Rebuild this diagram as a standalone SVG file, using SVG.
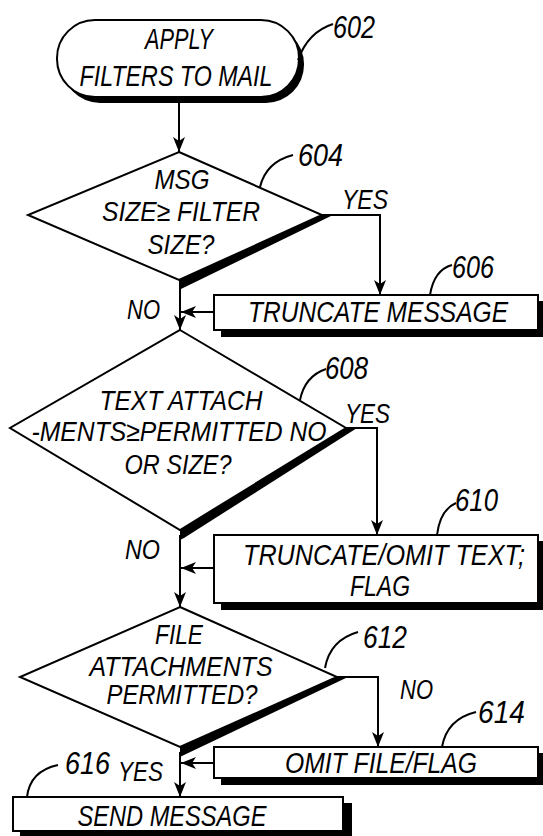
<svg xmlns="http://www.w3.org/2000/svg" width="543" height="836" viewBox="0 0 543 836">
<defs>
<style>
text{font-family:"Liberation Sans",Arial,sans-serif;font-style:italic;fill:#000;text-anchor:middle}
.t{font-size:29px}
.d{font-size:28px}
.d2{font-size:27px}
.n{font-size:31px;text-anchor:start}
.l{font-size:27px;text-anchor:start}
.ln{fill:none;stroke:#000;stroke-width:2}
.bx{fill:#fff;stroke:#000;stroke-width:2}
.sh{fill:#000}
</style>
<marker id="ah" markerUnits="userSpaceOnUse" markerWidth="16" markerHeight="12" refX="15" refY="6" orient="auto">
<path d="M0,0 L15,6 L0,12 L4,6 z" fill="#000"/>
</marker>
</defs>
<rect width="543" height="836" fill="#fff"/>

<g id="connectors">
<path class="ln" d="M179,103 L179,152" marker-end="url(#ah)"/>
<path class="ln" d="M322,215 L380,215 L380,295" marker-end="url(#ah)"/>
<path class="ln" d="M180,285 L180,330" marker-end="url(#ah)"/>
<path class="ln" d="M214,312 L181,312" marker-end="url(#ah)"/>
<path class="ln" d="M346,428 L377,428 L377,535" marker-end="url(#ah)"/>
<path class="ln" d="M180,535 L180,607" marker-end="url(#ah)"/>
<path class="ln" d="M214,568 L181,568" marker-end="url(#ah)"/>
<path class="ln" d="M337,677 L378,677 L378,747" marker-end="url(#ah)"/>
<path class="ln" d="M180,752 L180,797" marker-end="url(#ah)"/>
<path class="ln" d="M214,763 L181,763" marker-end="url(#ah)"/>
</g>

<g id="n602">
<rect class="sh" x="62" y="26" width="242" height="77" rx="38"/>
<rect class="bx" x="57" y="20" width="242" height="77" rx="38"/>
<text class="t" x="179" y="49" textLength="68" lengthAdjust="spacingAndGlyphs">APPLY</text>
<text class="t" x="176" y="86" textLength="193" lengthAdjust="spacingAndGlyphs">FILTERS TO MAIL</text>
<path class="ln" d="M298,60 Q308,32 333,24"/>
<text class="n" x="333" y="38" textLength="42" lengthAdjust="spacingAndGlyphs">602</text>
</g>

<g id="n604">
<polygon class="sh" points="322,215 333,215 183,288 179,290 179,280"/>
<polygon class="bx" points="179,152 322,215 179,280 28,215"/>
<text class="d" x="182" y="189" textLength="55" lengthAdjust="spacingAndGlyphs">MSG</text>
<text class="d" x="181" y="221" textLength="158" lengthAdjust="spacingAndGlyphs">SIZE≥ FILTER</text>
<text class="d" x="181" y="254" textLength="67" lengthAdjust="spacingAndGlyphs">SIZE?</text>
<path class="ln" d="M260,187 Q266,162 293,155"/>
<text class="n" x="298" y="166" textLength="45" lengthAdjust="spacingAndGlyphs">604</text>
<text class="l" x="342" y="209" textLength="46" lengthAdjust="spacingAndGlyphs">YES</text>
<text class="l" x="127" y="319" textLength="33" lengthAdjust="spacingAndGlyphs">NO</text>
</g>

<g id="n606">
<rect class="sh" x="221" y="301" width="330" height="36"/>
<rect class="bx" x="214" y="295" width="324" height="35"/>
<text class="t" x="378" y="322" textLength="260" lengthAdjust="spacingAndGlyphs">TRUNCATE MESSAGE</text>
<path class="ln" d="M430,295 Q434,270 452,265"/>
<text class="n" x="452" y="278" textLength="42" lengthAdjust="spacingAndGlyphs">606</text>
</g>

<g id="n608">
<polygon class="sh" points="346,428 357,428 184,538 180,540 180,530"/>
<polygon class="bx" points="180,330 346,428 180,530 10,428"/>
<text class="d" x="181" y="410" textLength="163" lengthAdjust="spacingAndGlyphs">TEXT ATTACH</text>
<text class="d" x="179" y="441" textLength="295" lengthAdjust="spacingAndGlyphs">-MENTS≥PERMITTED NO</text>
<text class="d" x="178" y="474" textLength="107" lengthAdjust="spacingAndGlyphs">OR SIZE?</text>
<path class="ln" d="M300,400 Q305,376 326,369"/>
<text class="n" x="325" y="379" textLength="43" lengthAdjust="spacingAndGlyphs">608</text>
<text class="l" x="345" y="423" textLength="45" lengthAdjust="spacingAndGlyphs">YES</text>
<text class="l" x="125" y="559" textLength="35" lengthAdjust="spacingAndGlyphs">NO</text>
</g>

<g id="n610">
<rect class="sh" x="221" y="541" width="330" height="69"/>
<rect class="bx" x="214" y="535" width="324" height="68"/>
<text class="t" x="384" y="565" textLength="282" lengthAdjust="spacingAndGlyphs">TRUNCATE/OMIT TEXT;</text>
<text class="t" x="380" y="596" textLength="60" lengthAdjust="spacingAndGlyphs">FLAG</text>
<path class="ln" d="M437,535 Q440,510 456,503"/>
<text class="n" x="455" y="511" textLength="43" lengthAdjust="spacingAndGlyphs">610</text>
</g>

<g id="n612">
<polygon class="sh" points="337,677 348,677 184,755 180,757 180,747"/>
<polygon class="bx" points="180,607 337,677 180,747 20,677"/>
<text class="d2" x="179" y="644" textLength="48" lengthAdjust="spacingAndGlyphs">FILE</text>
<text class="d2" x="181" y="676" textLength="183" lengthAdjust="spacingAndGlyphs">ATTACHMENTS</text>
<text class="d2" x="182" y="704" textLength="151" lengthAdjust="spacingAndGlyphs">PERMITTED?</text>
<path class="ln" d="M325,668 Q330,640 358,632"/>
<text class="n" x="363" y="648" textLength="44" lengthAdjust="spacingAndGlyphs">612</text>
<text class="l" x="400" y="699" textLength="33" lengthAdjust="spacingAndGlyphs">NO</text>
<text class="l" x="118" y="781" textLength="45" lengthAdjust="spacingAndGlyphs">YES</text>
</g>

<g id="n614">
<rect class="sh" x="221" y="753" width="330" height="32"/>
<rect class="bx" x="214" y="747" width="324" height="31"/>
<text class="t" x="381" y="773" textLength="192" lengthAdjust="spacingAndGlyphs">OMIT FILE/FLAG</text>
<path class="ln" d="M442,747 Q447,719 476,712"/>
<text class="n" x="478" y="723" textLength="47" lengthAdjust="spacingAndGlyphs">614</text>
</g>

<g id="n616">
<rect class="sh" x="20" y="803" width="332" height="40"/>
<rect class="bx" x="13" y="797" width="330" height="34"/>
<text class="t" x="172" y="826" textLength="189" lengthAdjust="spacingAndGlyphs">SEND MESSAGE</text>
<path class="ln" d="M27,797 Q30,771 58,765"/>
<text class="n" x="65" y="774" textLength="45" lengthAdjust="spacingAndGlyphs">616</text>
</g>
</svg>
